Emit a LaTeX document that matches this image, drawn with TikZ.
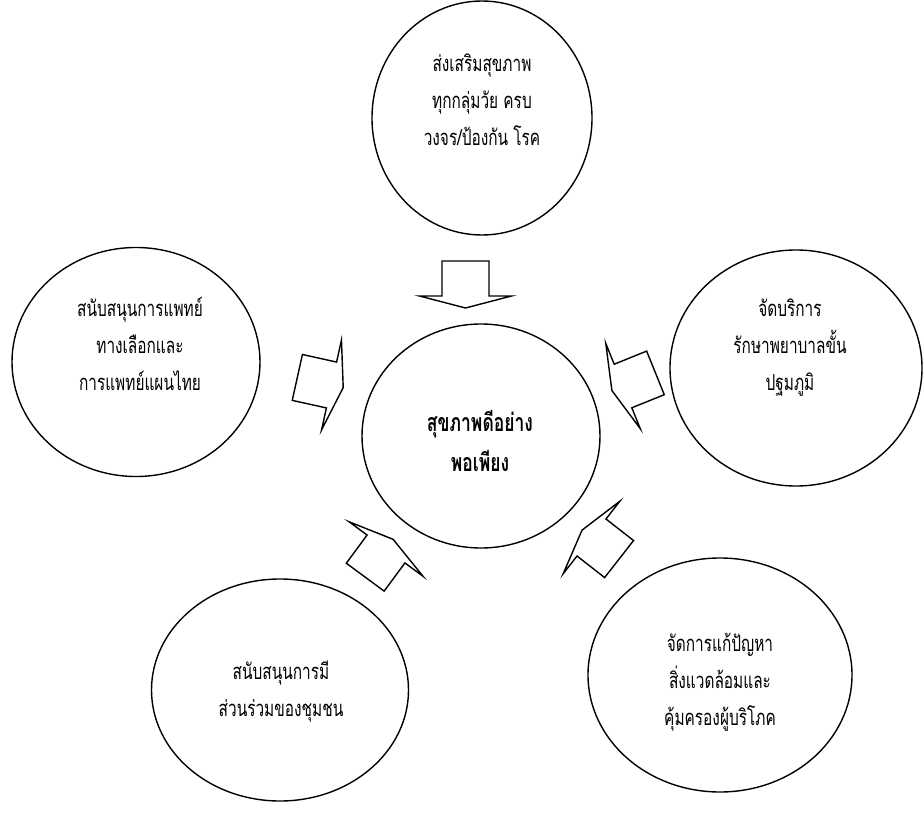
\documentclass[tikz,border=0pt]{standalone}
\usepackage{fontspec}
\newfontfamily\thaifont[Script=Thai,FakeStretch=0.7]{Loma}
\usetikzlibrary{shapes.geometric}

\begin{document}
\begin{tikzpicture}[x=1pt,y=-1pt,
    bubble/.style={ellipse,draw,line width=1.4pt,inner sep=0pt},
    thaitext/.style={align=center,font=\thaifont\fontsize{22}{37}\selectfont},
    hubtext/.style={align=center,font=\thaifont\bfseries\fontsize{25}{40}\selectfont},
    blockarrow/.style={draw,line width=1.4pt,line join=miter}]
    \useasboundingbox (0,0) rectangle (923,813);

    % the six ellipses
    \node (top) at (482,118) [bubble,minimum width=220pt,minimum height=234pt] {};
    \node (left) at (136,362) [bubble,minimum width=248pt,minimum height=229pt] {};
    \node (right) at (796,368) [bubble,minimum width=252pt,minimum height=236pt] {};
    \node (hub) at (481,436) [bubble,minimum width=238pt,minimum height=224pt] {};
    \node (botleft) at (280,690) [bubble,minimum width=257pt,minimum height=222pt] {};
    \node (botright) at (720,675) [bubble,minimum width=264pt,minimum height=234pt] {};

    % texts
    \node (topText) at (482,100) [thaitext] {ส่งเสริมสุขภาพ\\ทุกกลุ่มวัย ครบ\\วงจร/ป้องกัน โรค};
    \node (leftText) at (140,344) [thaitext] {สนับสนุนการแพทย์\\ทางเลือกและ\\การแพทย์แผนไทย};
    \node (rightText) at (790,348) [thaitext] {จัดบริการ\\รักษาพยาบาลขั้น\\ปฐมภูมิ};
    \node (hubText) at (480,441) [hubtext] {สุขภาพดีอย่าง\\พอเพียง};
    \node (botleftText) at (281,692) [thaitext] {สนับสนุนการมี\\ส่วนร่วมของชุมชน};
    \node (botrightText) at (720,682) [thaitext] {จัดการแก้ปัญหา\\สิ่งแวดล้อมและ\\คุ้มครองผู้บริโภค};

    % block arrows towards the hub
    \draw[blockarrow,shift={(465.5,296)},rotate=-90] (-35,23.5) -- (0,23.5) -- (0,46) -- (12,0) -- (0,-46) -- (0,-23.5) -- (-35,-23.5) -- cycle;
    \draw[blockarrow,shift={(331.5,385)},rotate=-12.5] (-35,23.5) -- (0,23.5) -- (0,46) -- (12,0) -- (0,-46) -- (0,-23.5) -- (-35,-23.5) -- cycle;
    \draw[blockarrow,shift={(623,386)},rotate=202] (-35,23.5) -- (0,23.5) -- (0,46) -- (12,0) -- (0,-46) -- (0,-23.5) -- (-35,-23.5) -- cycle;
    \draw[blockarrow,shift={(386,549)},rotate=53.6] (-35,23.5) -- (0,23.5) -- (0,46) -- (12,0) -- (0,-46) -- (0,-23.5) -- (-35,-23.5) -- cycle;
    \draw[blockarrow,shift={(591.5,537.5)},rotate=142] (-35,23.5) -- (0,23.5) -- (0,46) -- (12,0) -- (0,-46) -- (0,-23.5) -- (-35,-23.5) -- cycle;

\end{tikzpicture}
\end{document}
